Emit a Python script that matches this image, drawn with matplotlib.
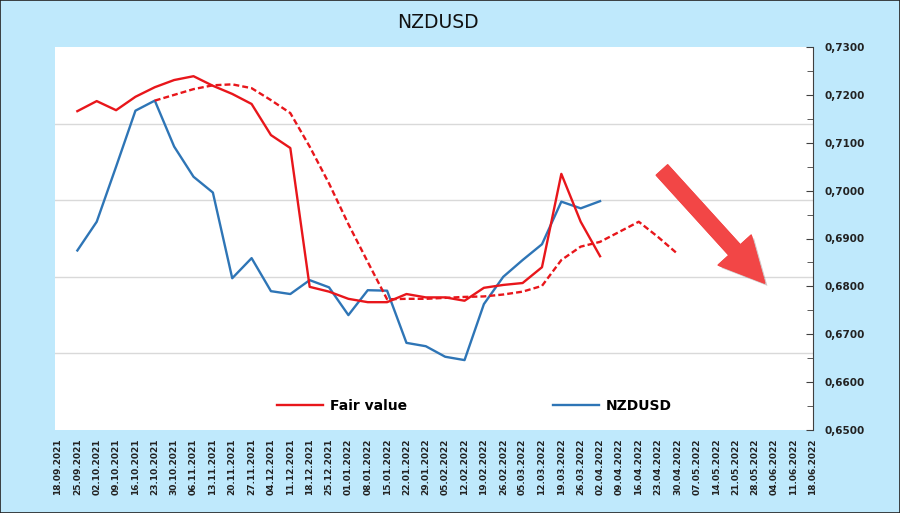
import matplotlib
matplotlib.use('Agg')
import matplotlib.pyplot as plt
import matplotlib.patheffects as pe
from matplotlib.patches import Rectangle
from matplotlib.ticker import MultipleLocator, FuncFormatter
import pandas as pd

# weekly dates on the x axis
dates = pd.date_range('2021-09-18', '2022-06-18', freq='7D').strftime('%d.%m.%Y').tolist()

# Fair value (solid red), starts 25.09.2021
fair_x = list(range(1, 29))
fair_value = [0.7166, 0.7187, 0.7168, 0.7196, 0.7216, 0.7231, 0.7239, 0.7219, 0.7202, 0.7181,
              0.7116, 0.7089, 0.6799, 0.6789, 0.6774, 0.6767, 0.6767, 0.6784, 0.6777, 0.6777,
              0.6770, 0.6797, 0.6803, 0.6807, 0.6840, 0.7035, 0.6935, 0.6863]

# NZDUSD price (blue)
pair_x = list(range(1, 29))
nzdusd = [0.6875, 0.6935, 0.7050, 0.7167, 0.7188, 0.7092, 0.7029, 0.6996, 0.6817, 0.6859,
          0.6790, 0.6784, 0.6813, 0.6798, 0.6740, 0.6792, 0.6791, 0.6682, 0.6675, 0.6653,
          0.6646, 0.6763, 0.6820, 0.6855, 0.6888, 0.6977, 0.6963, 0.6978]

# shifted fair value (dashed red), starts 23.10.2021
shift_x = list(range(5, 33))
fair_shift = [0.7188, 0.7200, 0.7212, 0.7220, 0.7222, 0.7214, 0.7189, 0.7162, 0.7092, 0.7015,
              0.6930, 0.6851, 0.6773, 0.6774, 0.6774, 0.6776, 0.6778, 0.6779, 0.6783, 0.6789,
              0.6801, 0.6855, 0.6883, 0.6893, 0.6914, 0.6935, 0.6903, 0.6868]

red = '#e8161b'
blue = '#2e75b6'
bg = '#bfe9fc'

fig = plt.figure(figsize=(9, 5.13), dpi=100, facecolor=bg)
ax = fig.add_axes([55 / 900, 83 / 513, 758 / 900, 383 / 513])
ax.set_facecolor('white')

# horizontal grid of the hidden primary axis (5 bands)
for k in range(1, 5):
    ax.axhline(0.65 + 0.016 * k, color='#d9d9d9', lw=1, zorder=0)

ax.plot(fair_x, fair_value, color=red, lw=1.7, label='Fair value', zorder=3)
ax.plot(pair_x, nzdusd, color=blue, lw=1.7, label='NZDUSD', zorder=2)
ax.plot(shift_x, fair_shift, color=red, lw=1.7, ls=(0, (2.5, 1.3)), zorder=3)

# big arrow
ax.annotate('', xy=(36.5, 0.6807), xytext=(31.2, 0.7043),
            arrowprops=dict(arrowstyle='simple,head_length=1.6,head_width=1.6,tail_width=0.55',
                            mutation_scale=20, color='#f24646', shrinkA=0, shrinkB=0,
                            path_effects=[pe.withSimplePatchShadow(offset=(2, -2), alpha=0.25), pe.Normal()]),
            zorder=4)

ax.set_xlim(-0.155, 39)
ax.set_ylim(0.65, 0.73)
ax.set_xticks(range(len(dates)))
ax.set_xticklabels(dates, rotation=90, fontsize=6.5, fontweight='bold', color='#222222')
ax.tick_params(axis='x', length=0, pad=6)

ax.yaxis.tick_right()
ax.yaxis.set_major_locator(MultipleLocator(0.01))
ax.yaxis.set_minor_locator(MultipleLocator(0.005))
ax.yaxis.set_major_formatter(FuncFormatter(lambda v, p: f'{v:.4f}'.replace('.', ',')))
ax.tick_params(axis='y', which='both', direction='in', color='#404040', labelsize=7.5, pad=8)
ax.tick_params(axis='y', which='major', length=5)
ax.tick_params(axis='y', which='minor', length=4)
for t in ax.get_yticklabels():
    t.set_fontweight('bold')
    t.set_color('#222222')

for s in ['top', 'left', 'bottom']:
    ax.spines[s].set_visible(False)
ax.spines['right'].set_color('#404040')
ax.spines['right'].set_linewidth(0.8)

leg = ax.legend(loc='center left', bbox_to_anchor=(222 / 758, 24 / 383), ncol=2, frameon=False,
                prop={'weight': 'bold', 'size': 10}, handlelength=3.3, handletextpad=0.5,
                columnspacing=10.5, borderaxespad=0, borderpad=0)

fig.text(438 / 900, 1 - 22 / 513, 'NZDUSD', ha='center', va='center', fontsize=13.5, color='#111111')

fig.patches.append(Rectangle((0, 0), 1, 1, transform=fig.transFigure, fill=False,
                             edgecolor='#222222', lw=1.2))

fig.savefig('out.png', dpi=100, facecolor=bg)
